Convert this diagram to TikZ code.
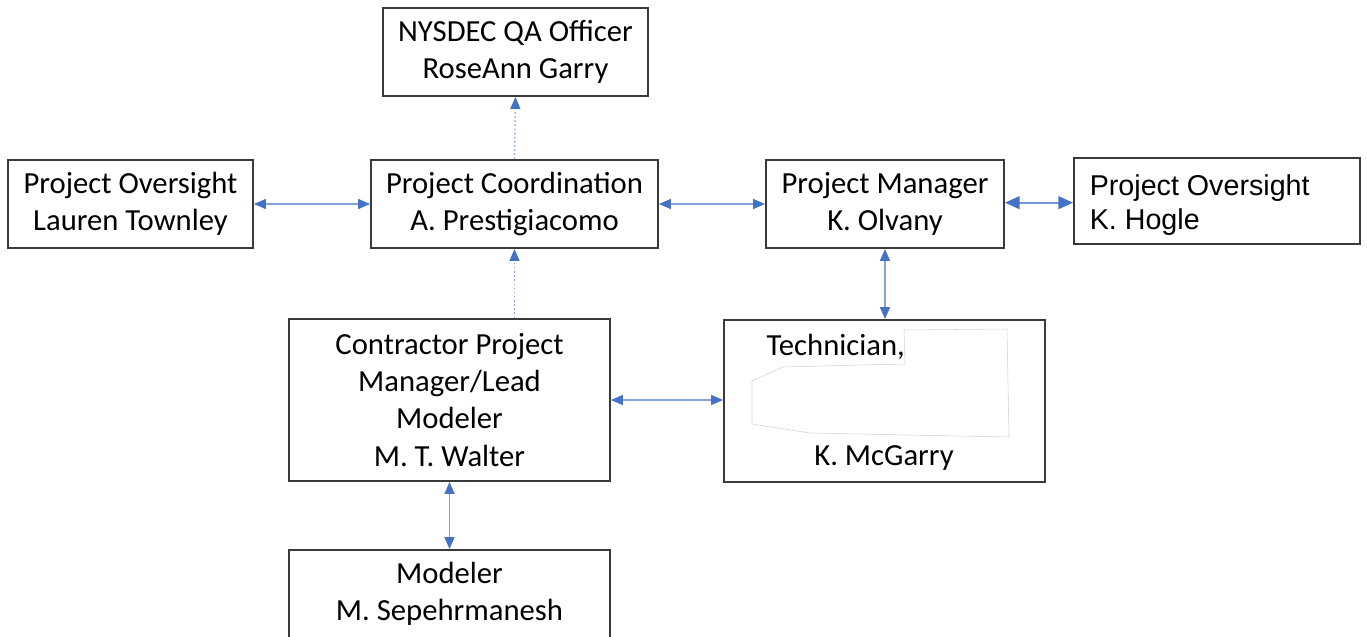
\documentclass[tikz,border=0pt]{standalone}
\usepackage{fontspec}
\setmainfont{Carlito}
\newfontfamily\arialfont{Liberation Sans}
\usetikzlibrary{arrows.meta}
\definecolor{linkblue}{HTML}{4472C4}
\definecolor{boxink}{HTML}{3A3A3A}

\begin{document}
\begin{tikzpicture}[
    x=0.75pt, y=-0.75pt,
    every node/.style={font=\fontsize{23}{27.8}\selectfont, align=center, text=black},
    % Org chart box
    orgbox/.style={rectangle, draw=boxink, line width=1.4pt, fill=white, inner sep=0pt},
    % Blue connectors
    link/.style={{Triangle[length=9pt, width=7.5pt, color=linkblue]}-{Triangle[length=9pt, width=7.5pt, color=linkblue]},
                 line width=1.1pt, linkblue!65},
    biglink/.style={{Triangle[length=11pt, width=9.5pt, color=linkblue]}-{Triangle[length=11pt, width=9.5pt, color=linkblue]},
                 line width=1.6pt, linkblue!75},
    dotlink/.style={-{Triangle[length=9pt, width=7.5pt, color=linkblue]}, line width=1.1pt,
                    linkblue!65, dotted}
]
\useasboundingbox (0,0) rectangle (1367,636);

% ========== Top ==========
\node[orgbox, minimum width=0.75*265pt, minimum height=0.75*88pt] at (515.5, 52) (qa)
    {NYSDEC QA Officer\\RoseAnn Garry};

% ========== Row 1 ==========
\node[orgbox, minimum width=0.75*245pt, minimum height=0.75*88pt] at (130.5, 204) (lauren)
    {Project Oversight\\Lauren Townley};
\node[orgbox, minimum width=0.75*287pt, minimum height=0.75*88pt] at (514.5, 204) (coord)
    {Project Coordination\\A. Prestigiacomo};
\node[orgbox, minimum width=0.75*238pt, minimum height=0.75*88pt] at (885, 204) (pm)
    {Project Manager\\K. Olvany};
\node[orgbox, minimum width=0.75*286pt, minimum height=0.75*86pt] at (1217, 201) (hogle) {};
\node[font=\arialfont\fontsize{21.5}{25.5}\selectfont, align=left, anchor=west]
    at ([xshift=9pt, yshift=-3pt]hogle.west) (hoglet) {Project Oversight\\K. Hogle};

% ========== Row 2 ==========
\node[orgbox, minimum width=0.75*321pt, minimum height=0.75*162pt] at (449.5, 400) (lead)
    {Contractor Project\\Manager/Lead\\Modeler\\M. T. Walter};
\node[orgbox, minimum width=0.75*321pt, minimum height=0.75*162pt] at (884.5, 401) (tech) {};
\node[anchor=west] at (762, 347) (techt) {Technician,};
\node at (884, 458) (techn) {K. McGarry};
% redacted patch
\draw[gray!35, line width=0.4pt, fill=white]
    (904, 330) -- (1007, 329) -- (1009, 437) -- (810, 433) -- (752, 424)
    -- (752, 381) -- (783, 367) -- (905, 364) -- cycle;

% ========== Row 3 ==========
\node[orgbox, minimum width=0.75*321pt, minimum height=0.75*88pt] at (449.5, 594) (modeler)
    {Modeler\\M. Sepehrmanesh};

% ========== Connectors ==========
\draw[dotlink] (coord.north) -- (qa.south);
\draw[dotlink] (coord.south |- lead.north) -- (coord.south);
\draw[link] (lauren.east) -- (coord.west);
\draw[link] (coord.east) -- (pm.west);
\draw[biglink] ([yshift=1pt]pm.east) -- ([yshift=1pt]pm.east -| hogle.west);
\draw[link] (pm.south) -- (pm.south |- tech.north);
\draw[link] (lead.east) -- (lead.east -| tech.west);
\draw[link] (lead.south) -- (lead.south |- modeler.north);

\end{tikzpicture}
\end{document}
